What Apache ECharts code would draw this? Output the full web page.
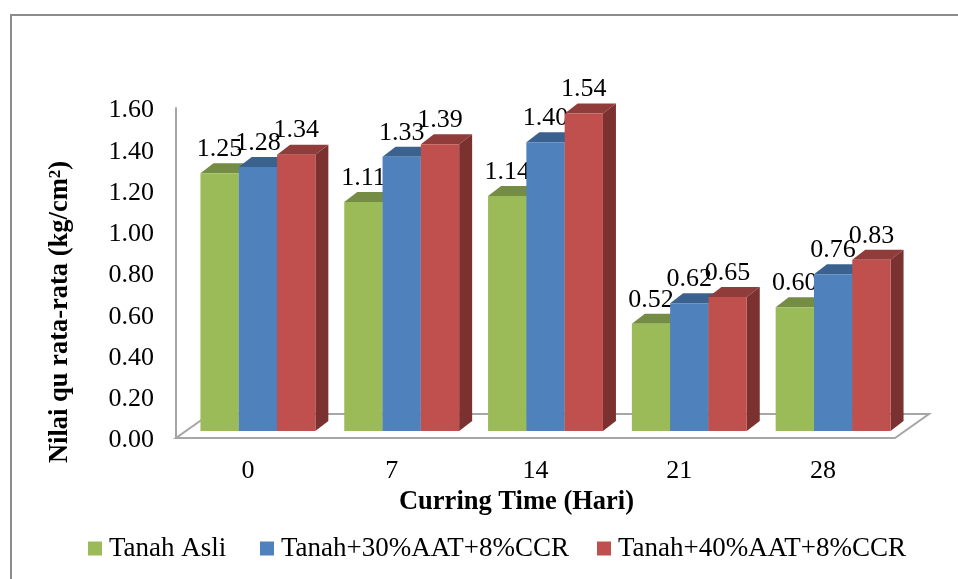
<!DOCTYPE html>
<html>
<head>
<meta charset="utf-8">
<script src="https://cdn.jsdelivr.net/npm/echarts@6/dist/echarts.min.js"></script>
<style>
  html, body { margin: 0; padding: 0; background: #fff; }
  #chart { width: 958px; height: 579px; }
</style>
</head>
<body>
<div id="chart"></div>
<script>
const categories = ['0', '7', '14', '21', '28'];
const seriesNames = ['Tanah Asli', 'Tanah+30%AAT+8%CCR', 'Tanah+40%AAT+8%CCR'];
const tanahAsli = [1.25, 1.11, 1.14, 0.52, 0.60];
const tanah30 = [1.28, 1.33, 1.40, 0.62, 0.76];
const tanah40 = [1.34, 1.39, 1.54, 0.65, 0.83];

const FRONT = ['#9bbb59', '#4f81bd', '#c0504d'];
const TOP = ['#748c43', '#3b618e', '#903c3a'];
const SIDE = ['#7a9340', '#30506f', '#7b3130'];
const LEGEND_LEFT = [88, 260, 597];
const FONT = '"Liberation Serif", "Times New Roman", serif';
const GREY = '#a6a6a6';

// pseudo 3D, the bars stand a bit behind the front edge of the floor
const BAR_W = 38.3, DEPTH_X = 13, DEPTH_Y = 10, SHIFT_X = 10, SHIFT_Y = 7;

function barSeries(idx, values) {
  return {
    name: seriesNames[idx],
    type: 'custom',
    coordinateSystem: 'cartesian2d',
    itemStyle: { color: FRONT[idx] },
    encode: { x: 0, y: 1 },
    data: values.map((v, i) => [i, v]),
    z: 3 + idx,
    renderItem(params, api) {
      const top = api.coord([api.value(0), api.value(1)]);
      const base = api.coord([api.value(0), 0]);
      const x = top[0] + SHIFT_X + (idx - 1.5) * BAR_W;
      const yTop = top[1] - SHIFT_Y;
      const yBase = base[1] - SHIFT_Y;
      const x2 = x + BAR_W;
      return {
        type: 'group',
        children: [
          {
            type: 'polygon',
            shape: { points: [[x, yTop], [x + DEPTH_X, yTop - DEPTH_Y], [x2 + DEPTH_X, yTop - DEPTH_Y], [x2, yTop]] },
            style: { fill: TOP[idx] }
          },
          {
            type: 'polygon',
            shape: { points: [[x2, yTop], [x2 + DEPTH_X, yTop - DEPTH_Y], [x2 + DEPTH_X, yBase - DEPTH_Y], [x2, yBase]] },
            style: { fill: SIDE[idx] }
          },
          {
            type: 'rect',
            shape: { x: x, y: yTop, width: BAR_W, height: yBase - yTop },
            style: { fill: FRONT[idx] }
          },
          {
            type: 'text',
            z2: 100,
            style: {
              text: api.value(1).toFixed(2),
              x: x + BAR_W / 2,
              y: yTop - 24,
              align: 'center',
              verticalAlign: 'middle',
              fill: '#000',
              font: '26px ' + FONT
            }
          }
        ]
      };
    }
  };
}

// floor of the 3D box, drawn once behind the bars
const floorSeries = {
  type: 'custom',
  coordinateSystem: 'cartesian2d',
  silent: true,
  z: 1,
  data: [[0, 0]],
  encode: { x: 0, y: 1 },
  renderItem(params, api) {
    const o = api.coord([0, 0]);
    const s = api.size([1, 0]);
    const l = o[0] - s[0] / 2;
    const r = l + s[0] * categories.length;
    const y = o[1];
    return {
      type: 'polygon',
      shape: { points: [[l, y], [r, y], [r + 34, y - 24], [l + 34, y - 24]] },
      style: { fill: '#fff', stroke: GREY, lineWidth: 2 }
    };
  }
};

const chart = echarts.init(document.getElementById('chart'), null, { renderer: 'canvas' });
chart.setOption({
  animation: false,
  backgroundColor: '#fff',
  textStyle: { fontFamily: FONT },
  // only top and left edges of the frame are inside the crop
  graphic: [{
    type: 'rect',
    shape: { x: 11, y: 15, width: 1000, height: 600 },
    style: { fill: 'none', stroke: '#8c8c8c', lineWidth: 2 },
    silent: true,
    z: 0
  }],
  grid: { left: 176, top: 108, width: 719, height: 330 },
  legend: seriesNames.map((name, i) => ({
    left: LEGEND_LEFT[i],
    top: 535,
    padding: 0,
    itemWidth: 14,
    itemHeight: 14,
    icon: 'rect',
    selectedMode: false,
    data: [name],
    textStyle: { fontFamily: FONT, fontSize: 27, color: '#000', padding: [0, 0, 0, 2] }
  })),
  xAxis: {
    type: 'category',
    data: categories,
    axisLine: { show: false },
    axisTick: { show: false },
    axisLabel: { color: '#000', fontFamily: FONT, fontSize: 26, margin: 20 },
    name: 'Curring Time (Hari)',
    nameLocation: 'middle',
    nameGap: 47,
    nameTextStyle: { color: '#000', fontFamily: FONT, fontSize: 26.5, fontWeight: 'bold', padding: [0, 38, 0, 0] }
  },
  yAxis: {
    type: 'value',
    min: 0,
    max: 1.6,
    interval: 0.2,
    splitLine: { show: false },
    axisTick: { show: false },
    axisLine: { show: true, lineStyle: { color: GREY, width: 2 } },
    axisLabel: {
      margin: 22,
      formatter: (v) => '{a|' + v.toFixed(2) + '}',
      rich: {
        a: { color: '#000', fontFamily: FONT, fontSize: 26, padding: [5, 0, 0, 0] }
      }
    },
    name: '{t|Nilai qu rata-rata (kg/cm}{s|2}{t|)}',
    nameLocation: 'middle',
    nameGap: 102,
    nameRotate: 90,
    nameTextStyle: {
      padding: [0, 78, 0, 0],
      rich: {
        t: { fontFamily: FONT, fontSize: 26.5, fontWeight: 'bold', color: '#000' },
        s: { fontFamily: FONT, fontSize: 17, fontWeight: 'bold', color: '#000', verticalAlign: 'top', lineHeight: 24 }
      }
    }
  },
  series: [
    floorSeries,
    barSeries(0, tanahAsli),
    barSeries(1, tanah30),
    barSeries(2, tanah40)
  ]
});
</script>
</body>
</html>
